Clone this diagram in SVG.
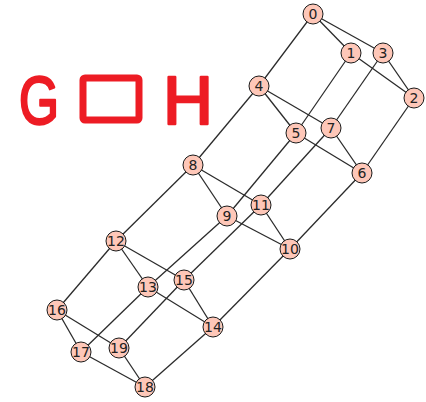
<svg xmlns="http://www.w3.org/2000/svg" width="426" height="402" viewBox="0 0 426 402">
<style>
.e{stroke:#2b2b2b;stroke-width:1.3;fill:none}
.n circle{fill:#fec7b8;stroke:#1a1a1a;stroke-width:1}
.n text{font-family:"DejaVu Sans",sans-serif;font-size:14px;fill:#222;text-anchor:middle;dominant-baseline:central}
.r{fill:#ed1c24;stroke:#ed1c24;stroke-width:2.5;stroke-linejoin:round;font-family:"Liberation Sans",sans-serif;font-size:68px}
</style>
<rect width="426" height="402" fill="#fff"/>
<g id="title">
<text class="r" x="19" y="124" textLength="40" lengthAdjust="spacingAndGlyphs">G</text>
<rect x="83" y="78" width="56" height="42" rx="2" fill="none" stroke="#ed1c24" stroke-width="7" stroke-linejoin="round"/>
<text class="r" x="163" y="124" textLength="50" lengthAdjust="spacingAndGlyphs">H</text>
</g>
<g id="edges" class="e">
<line x1="313" y1="14" x2="351" y2="53"/>
<line x1="313" y1="14" x2="383" y2="53"/>
<line x1="313" y1="14" x2="259" y2="86"/>
<line x1="351" y1="53" x2="414" y2="98"/>
<line x1="383" y1="53" x2="414" y2="98"/>
<line x1="351" y1="53" x2="296" y2="133"/>
<line x1="383" y1="53" x2="331" y2="128"/>
<line x1="414" y1="98" x2="362" y2="173"/>
<line x1="259" y1="86" x2="296" y2="133"/>
<line x1="259" y1="86" x2="331" y2="128"/>
<line x1="296" y1="133" x2="362" y2="173"/>
<line x1="331" y1="128" x2="362" y2="173"/>
<line x1="259" y1="86" x2="193" y2="165"/>
<line x1="296" y1="133" x2="227" y2="216"/>
<line x1="331" y1="128" x2="261" y2="205"/>
<line x1="362" y1="173" x2="290" y2="249"/>
<line x1="193" y1="165" x2="227" y2="216"/>
<line x1="193" y1="165" x2="261" y2="205"/>
<line x1="227" y1="216" x2="290" y2="249"/>
<line x1="261" y1="205" x2="290" y2="249"/>
<line x1="193" y1="165" x2="116" y2="241"/>
<line x1="227" y1="216" x2="148" y2="287"/>
<line x1="261" y1="205" x2="184" y2="280"/>
<line x1="290" y1="249" x2="213" y2="327"/>
<line x1="116" y1="241" x2="148" y2="287"/>
<line x1="116" y1="241" x2="184" y2="280"/>
<line x1="148" y1="287" x2="213" y2="327"/>
<line x1="184" y1="280" x2="213" y2="327"/>
<line x1="116" y1="241" x2="57" y2="310"/>
<line x1="148" y1="287" x2="81" y2="352"/>
<line x1="184" y1="280" x2="119" y2="348"/>
<line x1="213" y1="327" x2="145" y2="387"/>
<line x1="57" y1="310" x2="81" y2="352"/>
<line x1="57" y1="310" x2="119" y2="348"/>
<line x1="81" y1="352" x2="145" y2="387"/>
<line x1="119" y1="348" x2="145" y2="387"/>
</g>
<g id="n0" class="n"><circle cx="313" cy="14" r="10"/><text x="313" y="14">0</text></g>
<g id="n1" class="n"><circle cx="351" cy="53" r="10"/><text x="351" y="53">1</text></g>
<g id="n2" class="n"><circle cx="414" cy="98" r="10"/><text x="414" y="98">2</text></g>
<g id="n3" class="n"><circle cx="383" cy="53" r="10"/><text x="383" y="53">3</text></g>
<g id="n4" class="n"><circle cx="259" cy="86" r="10"/><text x="259" y="86">4</text></g>
<g id="n5" class="n"><circle cx="296" cy="133" r="10"/><text x="296" y="133">5</text></g>
<g id="n6" class="n"><circle cx="362" cy="173" r="10"/><text x="362" y="173">6</text></g>
<g id="n7" class="n"><circle cx="331" cy="128" r="10"/><text x="331" y="128">7</text></g>
<g id="n8" class="n"><circle cx="193" cy="165" r="10"/><text x="193" y="165">8</text></g>
<g id="n9" class="n"><circle cx="227" cy="216" r="10"/><text x="227" y="216">9</text></g>
<g id="n10" class="n"><circle cx="290" cy="249" r="10"/><text x="290" y="249">10</text></g>
<g id="n11" class="n"><circle cx="261" cy="205" r="10"/><text x="261" y="205">11</text></g>
<g id="n12" class="n"><circle cx="116" cy="241" r="10"/><text x="116" y="241">12</text></g>
<g id="n13" class="n"><circle cx="148" cy="287" r="10"/><text x="148" y="287">13</text></g>
<g id="n14" class="n"><circle cx="213" cy="327" r="10"/><text x="213" y="327">14</text></g>
<g id="n15" class="n"><circle cx="184" cy="280" r="10"/><text x="184" y="280">15</text></g>
<g id="n16" class="n"><circle cx="57" cy="310" r="10"/><text x="57" y="310">16</text></g>
<g id="n17" class="n"><circle cx="81" cy="352" r="10"/><text x="81" y="352">17</text></g>
<g id="n18" class="n"><circle cx="145" cy="387" r="10"/><text x="145" y="387">18</text></g>
<g id="n19" class="n"><circle cx="119" cy="348" r="10"/><text x="119" y="348">19</text></g>
</svg>
